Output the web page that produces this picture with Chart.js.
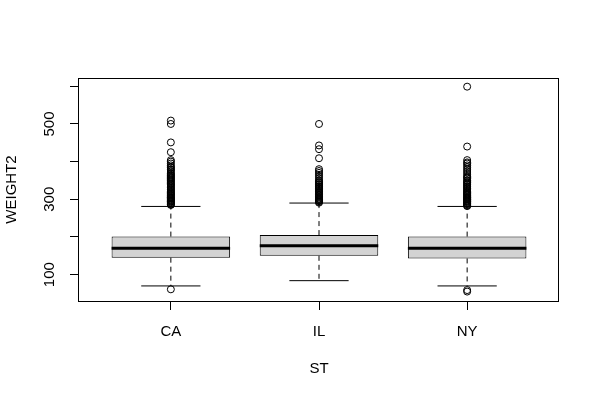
<!DOCTYPE html>
<html><head><meta charset="utf-8">
<script src="https://cdn.jsdelivr.net/npm/chart.js@4/dist/chart.umd.min.js"></script>
<style>html,body{margin:0;padding:0;background:#fff}canvas{display:block}</style>
</head><body>
<canvas id="c" width="600" height="400"></canvas>
<script>
// ---- data ----
const categories = ['CA', 'IL', 'NY'];
const positions = [1, 2, 3];
const q1 = [145, 150, 143];
const medians = [170, 177, 170];
const q3 = [201, 205, 201];
const whiskerLow = [70, 84, 70];
const whiskerHigh = [281, 290, 281];
const outliersCA = [61, 285, 286, 288, 290, 292, 294, 295, 297, 298, 300, 302, 304, 305, 307, 310, 312, 314, 315, 318, 320, 322, 325, 327, 330, 332, 335, 338, 340, 342, 345, 348, 350, 353, 355, 358, 360, 363, 365, 368, 370, 375, 378, 380, 384, 386, 390, 395, 400, 404, 425, 451, 500, 509];
const outliersIL = [291, 293, 295, 297, 298, 300, 302, 305, 307, 310, 312, 315, 318, 320, 322, 325, 328, 330, 333, 335, 338, 340, 343, 345, 348, 350, 355, 360, 365, 370, 375, 380, 409, 433, 443, 500];
const outliersNY = [55, 59, 282, 283, 285, 287, 289, 290, 292, 294, 295, 297, 299, 300, 302, 304, 305, 307, 310, 312, 314, 315, 318, 320, 322, 325, 328, 330, 333, 335, 338, 340, 343, 345, 348, 350, 355, 358, 360, 365, 370, 375, 380, 385, 390, 395, 398, 404, 440, 599];
const yTicks = [100, 200, 300, 400, 500, 600];
const yTickLabels = ['100', '', '300', '', '500', ''];
const yRange = [30, 622];
const xRange = [0.38, 3.62];
const xTitle = 'ST';
const yTitle = 'WEIGHT2';

// ---- build datasets ----
const outlierLists = [outliersCA, outliersIL, outliersNY];
const halfBox = 0.4, halfCap = 0.2;
const medianPts = [], whiskerPts = [], capPts = [], outlierPts = [];
positions.forEach((p, i) => {
  medianPts.push({x: p - halfBox, y: medians[i]}, {x: p + halfBox, y: medians[i]}, {x: p, y: null});
  whiskerPts.push({x: p, y: q3[i]}, {x: p, y: whiskerHigh[i]}, {x: p, y: null},
                  {x: p, y: q1[i]}, {x: p, y: whiskerLow[i]}, {x: p, y: null});
  capPts.push({x: p - halfCap, y: whiskerHigh[i]}, {x: p + halfCap, y: whiskerHigh[i]}, {x: p, y: null},
              {x: p - halfCap, y: whiskerLow[i]}, {x: p + halfCap, y: whiskerLow[i]}, {x: p, y: null});
  outlierLists[i].forEach(v => outlierPts.push({x: p, y: v}));
});

const font = {family: "'Liberation Sans', Arial, Helvetica, sans-serif", size: 15};

const frame = {
  id: 'frame',
  afterDatasetsDraw(chart) {
    const a = chart.chartArea, ctx = chart.ctx;
    ctx.save();
    ctx.strokeStyle = '#000';
    ctx.lineWidth = 1;
    ctx.strokeRect(Math.round(a.left) - 0.5, Math.round(a.top) + 0.5, Math.round(a.right - a.left), Math.round(a.bottom - a.top));
    ctx.restore();
  }
};

new Chart(document.getElementById('c'), {
  type: 'bar',
  data: {
    datasets: [
      {type: 'line', data: outlierPts, showLine: false, pointRadius: 3.5, pointBorderWidth: 1,
       pointBorderColor: '#000', pointBackgroundColor: 'rgba(0,0,0,0)', order: 1},
      {type: 'line', data: medianPts, borderColor: '#000', borderWidth: 3, pointRadius: 0,
       borderCapStyle: 'butt', spanGaps: false, order: 2},
      {type: 'bar', data: positions.map((p, i) => ({x: p, y: [q1[i], q3[i]]})),
       backgroundColor: '#d3d3d3', borderColor: '#000', borderWidth: 1, borderSkipped: false,
       barPercentage: 1.0, categoryPercentage: 0.8, order: 3},
      {type: 'line', data: capPts, borderColor: '#000', borderWidth: 1, pointRadius: 0, spanGaps: false, order: 4},
      {type: 'line', data: whiskerPts, borderColor: '#000', borderWidth: 1, borderDash: [5, 4],
       pointRadius: 0, spanGaps: false, order: 5}
    ]
  },
  options: {
    responsive: false,
    animation: false,
    events: [],
    layout: {padding: {top: 78, right: 41, left: 0, bottom: 0}},
    plugins: {legend: {display: false}, tooltip: {enabled: false}},
    scales: {
      x: {
        type: 'linear', min: xRange[0], max: xRange[1], offset: false,
        afterBuildTicks: s => { s.ticks = positions.map(v => ({value: v})); },
        afterFit: s => { s.height = 99; },
        grid: {display: true, offset: false, drawOnChartArea: false, drawTicks: true, tickLength: 9, color: '#000', lineWidth: 1},
        border: {display: false},
        ticks: {color: '#000', font: font, padding: 13, autoSkip: false, maxRotation: 0,
                callback: (v, i) => categories[i]},
        title: {display: true, text: xTitle, color: '#000', font: font, padding: {top: 0, bottom: 22}}
      },
      y: {
        type: 'linear', min: yRange[0], max: yRange[1],
        afterBuildTicks: s => { s.ticks = yTicks.map(v => ({value: v})); },
        afterFit: s => { s.width = 79; },
        grid: {display: true, drawOnChartArea: false, drawTicks: true, tickLength: 9, color: '#000', lineWidth: 1},
        border: {display: false},
        ticks: {color: '#000', font: font, padding: 8, autoSkip: false, minRotation: 90, maxRotation: 90,
                crossAlign: 'center', callback: (v, i) => yTickLabels[i]},
        title: {display: true, text: yTitle, color: '#000', font: font, padding: {top: 3, bottom: 0}}
      }
    }
  },
  plugins: [frame]
});
</script>
</body></html>
